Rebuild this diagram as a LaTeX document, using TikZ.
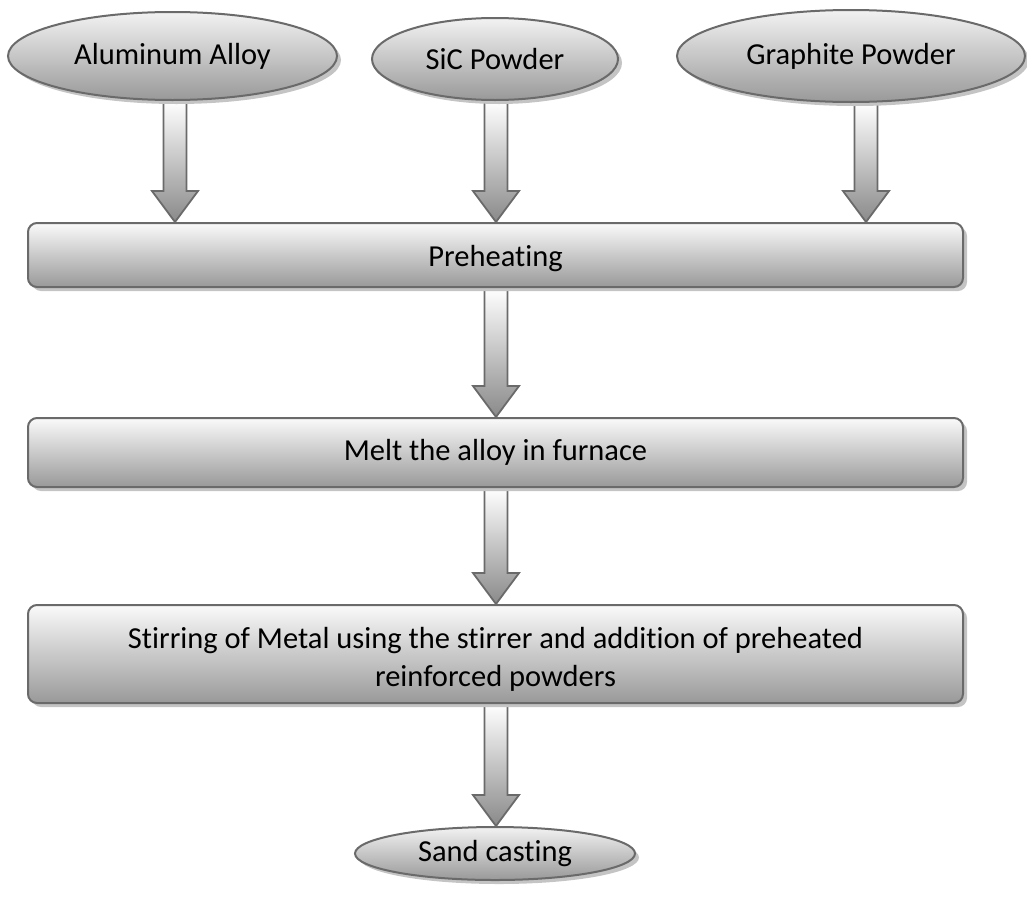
\documentclass[tikz,border=0pt]{standalone}
\usepackage{fontspec}
\setmainfont{Carlito}[Ligatures=NoCommon]
\usetikzlibrary{shapes.geometric,shadows,calc,backgrounds}
\definecolor{edgegray}{HTML}{6A6A6A}
\definecolor{shadegray}{HTML}{999999}
\definecolor{shadowgray}{HTML}{C4C4C4}
\tikzset{
  txt/.style={font=\fontsize{30.5}{38}\selectfont, text=black},
  oval/.style={ellipse, txt, draw=edgegray, line width=2pt, inner sep=0pt,
    top color=white!95!black, bottom color=shadegray,
    drop shadow={shadow xshift=4pt, shadow yshift=-4pt, fill=shadowgray, opacity=1}},
  stepbox/.style={rectangle, rounded corners=9pt, txt, draw=edgegray, line width=2pt,
    minimum width=935pt, inner sep=0pt, align=center,
    top color=white!98!black, bottom color=shadegray,
    drop shadow={shadow xshift=4pt, shadow yshift=-4pt, fill=shadowgray, opacity=1}},
  barrow/.style={draw=edgegray, line width=1.8pt, line join=miter,
    top color=white, bottom color=shadegray!90!black},
}
\newcommand\blockarrow[3]{%
  \path[barrow] let \p0=(#1,0), \p1=(#2), \p2=(#3) in
    (\x0-11.5pt,\y1) -- (\x0+11.5pt,\y1) -- (\x0+11.5pt,\y2+31pt)
    -- (\x0+23pt,\y2+31pt) -- (\x0,\y2) -- (\x0-23pt,\y2+31pt)
    -- (\x0-11.5pt,\y2+31pt) -- cycle;}
\newcommand\lowertext[2]{\raisebox{-#1}[\height][\depth]{#2}}
\begin{document}
\begin{tikzpicture}[x=1pt, y=-1pt]
\useasboundingbox (0,0) rectangle (1027,897);
\node[oval, minimum width=329pt, minimum height=88pt] (al) at (172.5,56) {Aluminum Alloy};
\node[oval, minimum width=246pt, minimum height=82pt] (sic) at (495,59) {SiC Powder};
\node[oval, minimum width=348pt, minimum height=92pt] (gr) at (851,56) {Graphite Powder};
\node[stepbox, minimum height=64pt] (pre) at (495.5,255) {\lowertext{4pt}{Preheating}};
\node[stepbox, minimum height=69pt] (melt) at (495.5,452.5) {Melt the alloy in furnace};
\node[stepbox, minimum height=98pt] (stir) at (495.5,654) {\lowertext{6pt}{\begin{tabular}{@{}c@{}}Stirring of Metal using the stirrer and addition of preheated\\reinforced powders\end{tabular}}};
\node[oval, minimum width=280pt, minimum height=53pt] (sand) at (495,853.5) {Sand casting};
\begin{scope}[on background layer]
\blockarrow{175}{al.south}{pre.north}
\blockarrow{496}{sic.south}{pre.north}
\blockarrow{866}{gr.south}{pre.north}
\blockarrow{496}{pre.south}{melt.north}
\blockarrow{496}{melt.south}{stir.north}
\blockarrow{496}{stir.south}{sand.north}
\end{scope}
\end{tikzpicture}
\end{document}
